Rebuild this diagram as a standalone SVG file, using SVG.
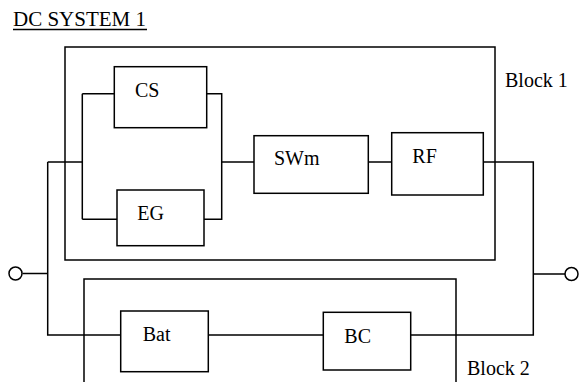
<svg xmlns="http://www.w3.org/2000/svg" width="581" height="382" viewBox="0 0 581 382">
<rect width="581" height="382" fill="#fff"/>
<g id="title"><text x="13" y="26" font-size="21" font-family="'Liberation Serif'">DC SYSTEM 1</text><line x1="13" y1="29.5" x2="147" y2="29.5" stroke="#000" stroke-width="1.3"/></g>
<g id="block1"><rect x="65" y="47" width="430" height="213" fill="none" stroke="#000" stroke-width="1.5"/><text x="505" y="87" font-size="20" font-family="'Liberation Serif'">Block 1</text></g>
<g id="block2"><path d="M84,382 V279 H456 V382" fill="none" stroke="#000" stroke-width="1.5"/><text x="467" y="375" font-size="20" font-family="'Liberation Serif'">Block 2</text></g>
<g id="connectors" fill="none" stroke="#000" stroke-width="1.5">
<path d="M22.5,273.5 H47.7 M47.7,162 V335 H121 M47.7,162 H82.3 M82.3,93.7 V219.3 M82.3,93.7 H114 M82.3,219.3 H117 M207,93.7 H221.7 V219.3 H204 M221.7,162 H254 M368,162 H392 M483,162 H533.3 V335 H411 M208,335 H323 M533.3,274 H565"/>
</g>
<g id="term-left"><circle cx="15.5" cy="273.5" r="6.5" fill="#fff" stroke="#000" stroke-width="1.5"/></g>
<g id="term-right"><circle cx="571.5" cy="274" r="6.5" fill="#fff" stroke="#000" stroke-width="1.5"/></g>
<g id="CS"><rect x="114.3" y="66.7" width="92.4" height="61" fill="#fff" stroke="#000" stroke-width="1.5"/><text x="135" y="97" font-size="20" font-family="'Liberation Serif'">CS</text></g>
<g id="EG"><rect x="117" y="190" width="87" height="55.7" fill="#fff" stroke="#000" stroke-width="1.5"/><text x="137.3" y="220" font-size="20" font-family="'Liberation Serif'">EG</text></g>
<g id="SWm"><rect x="254" y="135.7" width="114.3" height="57.6" fill="#fff" stroke="#000" stroke-width="1.5"/><text x="274" y="165" font-size="20" font-family="'Liberation Serif'">SWm</text></g>
<g id="RF"><rect x="391.7" y="132.7" width="91.6" height="62.3" fill="#fff" stroke="#000" stroke-width="1.5"/><text x="412.3" y="163.3" font-size="20" font-family="'Liberation Serif'">RF</text></g>
<g id="Bat"><rect x="120.7" y="311" width="87.6" height="60.7" fill="#fff" stroke="#000" stroke-width="1.5"/><text x="142.7" y="341" font-size="20" font-family="'Liberation Serif'">Bat</text></g>
<g id="BC"><rect x="323.3" y="312.3" width="87.4" height="57.7" fill="#fff" stroke="#000" stroke-width="1.5"/><text x="344.3" y="342.7" font-size="20" font-family="'Liberation Serif'">BC</text></g>
</svg>
